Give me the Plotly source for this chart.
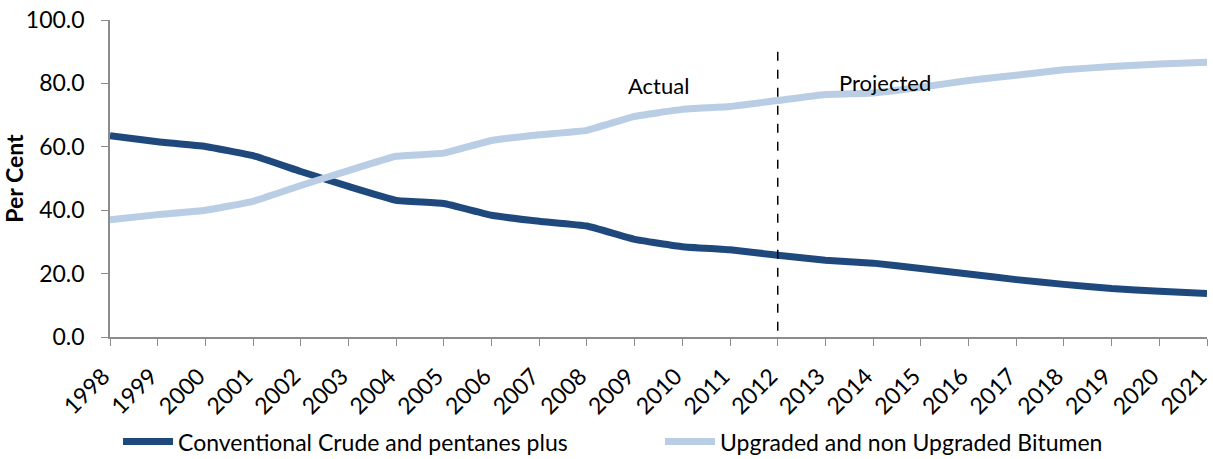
import plotly.graph_objects as go

years = [str(y) for y in range(1998, 2022)]
conventional = [63.5, 61.6, 60.1, 57.2, 52.2, 47.5, 43.1, 42.1, 38.4, 36.5, 35.0, 30.8,
                28.5, 27.5, 25.8, 24.2, 23.3, 21.6, 19.9, 18.1, 16.6, 15.3, 14.4, 13.7]
bitumen = [37.0, 38.6, 40.0, 42.8, 47.8, 52.5, 57.0, 58.0, 62.0, 63.8, 65.2, 69.6,
           71.8, 72.7, 74.6, 76.5, 77.0, 78.8, 80.9, 82.6, 84.3, 85.3, 86.1, 86.7]
series_names = ["Conventional Crude and pentanes plus", "Upgraded and non Upgraded Bitumen"]
colors = ["#1F497D", "#B9CDE5"]
y_ticks = [0, 20, 40, 60, 80, 100]
divider_index = years.index("2012")
annotations_text = [("Actual", 11.5, 79.2), ("Projected", 16.25, 80.3)]

font_family = "Lato, 'Open Sans', sans-serif"

fig = go.Figure()
for name, vals, col in zip(series_names, [conventional, bitumen], colors):
    fig.add_trace(go.Scatter(x=years, y=vals, mode="lines", name=name,
                             line=dict(color=col, width=7, shape="spline", smoothing=0.3)))

fig.add_shape(type="line", xref="x", yref="y", x0=divider_index, x1=divider_index,
              y0=2, y1=91.5, layer="above",
              line=dict(color="black", width=1.5, dash="dash"))

for txt, xi, yv in annotations_text:
    fig.add_annotation(x=xi, y=yv, xref="x", yref="y", text=txt, showarrow=False,
                       font=dict(family=font_family, size=22, color="black"))

fig.update_layout(
    width=1213, height=459,
    margin=dict(l=110, r=6, t=20, b=122, autoexpand=False),
    plot_bgcolor="white", paper_bgcolor="white",
    font=dict(family=font_family, size=23, color="black"),
    showlegend=True,
    legend=dict(orientation="h", x=0.0073, xanchor="left", y=-0.33, yanchor="middle",
                font=dict(size=23), itemwidth=50, tracegroupgap=0,
                entrywidth=477, entrywidthmode="pixels"),
    xaxis=dict(type="category", range=[0, 23], showline=True, linecolor="#8C8C8C",
               linewidth=1.5, ticks="outside", ticklen=7, tickcolor="#8C8C8C",
               tickangle=-45, tickfont=dict(size=23), showgrid=False, zeroline=False,
               automargin=False, ticklabelstandoff=8, ticklabelshift=-7),
    yaxis=dict(range=[0, 100], tickvals=y_ticks,
               ticktext=[f"{v:.1f}" for v in y_ticks], showline=True,
               linecolor="#8C8C8C", linewidth=1.5, ticks="outside", ticklen=7,
               tickcolor="#8C8C8C", showgrid=False, zeroline=False, automargin=False,
               tickfont=dict(size=23), ticklabelstandoff=12,
               title=dict(text="<b>Per Cent</b>", font=dict(size=23), standoff=0)),
)

fig.write_html("out.html", config={"displayModeBar": False},
               post_script="document.body.style.margin='0';")
